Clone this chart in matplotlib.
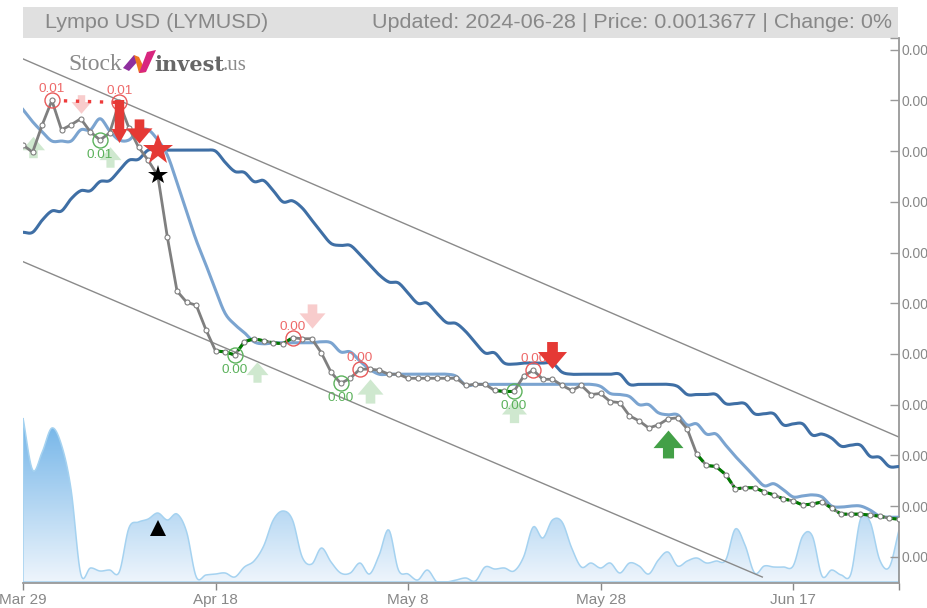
import numpy as np
import matplotlib
matplotlib.use('Agg')
import matplotlib.pyplot as plt
from matplotlib.patches import Polygon, Rectangle
from matplotlib.path import Path

plt.rcParams['font.family'] = ['Liberation Sans', 'DejaVu Sans']

# prices are in 1/1000 USD, one value per day from Mar 29 (day 0)
price = [5.06, 4.99, 5.26, 5.50, 5.21, 5.26, 5.32, 5.19, 5.11, 5.18, 5.48, 5.23, 5.04, 4.91, 4.76, 4.15,
         3.62, 3.51, 3.48, 3.24, 3.03, 3.02, 2.99, 3.12, 3.15, 3.13, 3.11, 3.10, 3.16, 3.15, 3.15, 3.01,
         2.82, 2.71, 2.76, 2.85, 2.85, 2.84, 2.80, 2.80, 2.76, 2.76, 2.76, 2.76, 2.76, 2.76, 2.69, 2.70,
         2.70, 2.64, 2.63, 2.63, 2.78, 2.84, 2.75, 2.75, 2.69, 2.64, 2.69, 2.60, 2.61, 2.53, 2.52, 2.39,
         2.34, 2.27, 2.30, 2.36, 2.37, 2.26, 2.01, 1.90, 1.89, 1.81, 1.67, 1.68, 1.68, 1.64, 1.61, 1.57,
         1.55, 1.51, 1.52, 1.54, 1.48, 1.42, 1.42, 1.42, 1.41, 1.40, 1.38, 1.37]
ma_long = [4.20, 4.20, 4.32, 4.41, 4.41, 4.53, 4.61, 4.61, 4.70, 4.71, 4.81, 4.91, 4.92, 5.01, 5.01, 5.01,
           5.01, 5.01, 5.01, 5.01, 5.00, 4.89, 4.80, 4.79, 4.70, 4.71, 4.61, 4.50, 4.51, 4.44, 4.32, 4.20,
           4.09, 4.07, 4.07, 3.98, 3.88, 3.78, 3.71, 3.70, 3.60, 3.50, 3.50, 3.40, 3.31, 3.30, 3.22, 3.11,
           3.01, 3.01, 2.91, 2.90, 2.91, 2.91, 2.91, 2.91, 2.82, 2.80, 2.80, 2.80, 2.80, 2.80, 2.80, 2.70,
           2.70, 2.70, 2.70, 2.70, 2.68, 2.60, 2.60, 2.60, 2.60, 2.51, 2.51, 2.51, 2.41, 2.41, 2.41, 2.30,
           2.31, 2.31, 2.20, 2.21, 2.17, 2.09, 2.10, 2.10, 1.99, 1.98, 1.89, 1.89]
ma_short = [5.41, 5.29, 5.19, 5.10, 5.10, 5.10, 5.21, 5.21, 5.32, 5.20, 5.11, 5.11, 5.20, 5.21, 5.11, 4.96,
            4.69, 4.40, 4.12, 3.88, 3.63, 3.40, 3.29, 3.21, 3.12, 3.10, 3.11, 3.11, 3.11, 3.11, 3.11, 3.12,
            3.11, 3.02, 3.02, 2.93, 2.85, 2.80, 2.80, 2.80, 2.80, 2.80, 2.80, 2.80, 2.80, 2.78, 2.69, 2.70,
            2.70, 2.70, 2.70, 2.70, 2.70, 2.70, 2.70, 2.70, 2.70, 2.70, 2.70, 2.70, 2.68, 2.61, 2.60, 2.58,
            2.50, 2.50, 2.42, 2.40, 2.40, 2.30, 2.31, 2.21, 2.21, 2.10, 1.99, 1.89, 1.79, 1.70, 1.72, 1.66,
            1.59, 1.60, 1.61, 1.59, 1.50, 1.49, 1.50, 1.50, 1.46, 1.40, 1.39, 1.39]
volume = [164, 112, 130, 154, 137, 92, 8, 14, 11, 12, 10, 54, 60, 63, 69, 62, 68, 50, 5, 7, 8, 9, 5, 15,
          21, 36, 62, 71, 62, 25, 18, 34, 20, 9, 9, 19, 8, 27, 52, 12, 8, 2, 12, 0, 0, 2, 4, 1, 15, 13,
          14, 11, 25, 55, 44, 62, 60, 34, 15, 19, 14, 19, 9, 19, 16, 8, 22, 30, 16, 21, 24, 19, 21, 22,
          53, 37, 9, 16, 15, 15, 16, 46, 46, 6, 12, 7, 8, 63, 60, 22, 15, 52]

channel_days = [0, 91]
channel_upper = [5.91, 2.18]
channel_lower_days = [0, 76.8]
channel_lower = [3.91, 0.80]

green_runs = [(20, 28), (49, 51), (70, 91)]
high_days = [3, 10, 28, 35, 53]
low_days = [8, 22, 33, 51]
high_labels = ['0.01', '0.01', '0.00', '0.00', '0.00']
low_labels = ['0.01', '0.00', '0.00', '0.00']

pale_sell = [(6, 5.47, 20), (30, 3.37, 26)]
sell = [(12, 5.20, 26), (55, 2.99, 29)]
pale_buy = [(1, 5.04, 23), (9, 4.94, 22), (24.3, 2.82, 22), (36, 2.63, 26), (51, 2.44, 25)]
buy = [(67, 2.11, 30)]

y_ticks = [1.0, 1.5, 2.0, 2.5, 3.0, 3.5, 4.0, 4.5, 5.0, 5.5, 6.0]
x_ticks = [0, 20, 40, 60, 80, 91]
x_labels = ['Mar 29', 'Apr 18', 'May 8', 'May 28', 'Jun 17', '']

W, H = 928, 608
GRAY = '#888888'


def fx(x):
    return x / W


def fy(y):
    return 1 - y / H


def smooth(x, y, n=10):
    # cubic through the daily values, only to round the drawn outline
    x = np.asarray(x, float)
    y = np.asarray(y, float)
    m = np.gradient(y, x)
    xs, ys = [], []
    for i in range(len(x) - 1):
        t = np.linspace(0, 1, n, endpoint=False)
        h = x[i + 1] - x[i]
        xs.extend(x[i] + t * h)
        ys.extend((2*t**3 - 3*t**2 + 1) * y[i] + (t**3 - 2*t**2 + t) * h * m[i]
                  + (-2*t**3 + 3*t**2) * y[i + 1] + (t**3 - t**2) * h * m[i + 1])
    xs.append(x[-1])
    ys.append(y[-1])
    return np.array(xs), np.array(ys)


def arrow_path(shaft=0.37, top=0.93, neck=0.24):
    return Path([(-shaft, top), (shaft, top), (shaft, neck), (1, neck), (0, -top), (-1, neck), (-shaft, neck),
                 (-shaft, top)], closed=True)


down_arrow = arrow_path()
up_arrow = down_arrow.transformed(matplotlib.transforms.Affine2D().scale(1, -1))
slim_arrow = Path([(-0.22, 1), (0.22, 1), (0.22, -0.35), (0.37, -0.35), (0, -1), (-0.37, -0.35), (-0.22, -0.35),
                   (-0.22, 1)], closed=True)

fig = plt.figure(figsize=(W / 100, H / 100), dpi=100)
rect = [fx(23), fy(583), 876 / W, 545 / H]

# volume sits in its own axes underneath
ax2 = fig.add_axes(rect, zorder=0)
ax2.axis('off')
days = np.arange(len(volume))
vx, vy = smooth(days, volume)
vy = np.clip(vy, 0, None)
grad = np.linspace(0, 1, 200)[:, None, None]
top_col = np.array(matplotlib.colors.to_rgb('#72b4e8'))
bot_col = np.array(matplotlib.colors.to_rgb('#eef5fc'))
img = ax2.imshow(top_col * (1 - grad) + bot_col * grad, extent=[0, 91, 0, 164], aspect='auto', zorder=1)
outline = Polygon(np.r_[np.c_[vx, vy], [[91, 0], [0, 0]]], closed=True, facecolor='none', edgecolor='#a5d2f0',
                  lw=1.1, zorder=2)
ax2.add_patch(outline)
img.set_clip_path(outline)
ax2.set_xlim(0, 91)
ax2.set_ylim(-1, 544)
ax2.plot([14], [54], marker='^', color='black', ms=11.5, mew=0, zorder=3)

ax = fig.add_axes(rect, zorder=1)
ax.patch.set_visible(False)
ax.set_xlim(0, 91)
ax.set_ylim(0.741, 6.116)

ax.plot(channel_days, channel_upper, color='#8a8a8a', lw=1.0, zorder=2)
ax.plot(channel_lower_days, channel_lower, color='#8a8a8a', lw=1.0, zorder=2)

ax.plot(*smooth(days, ma_long), color='#3f6fa5', lw=2.2, zorder=3)
ax.plot(*smooth(days, ma_short), color='#7ba4d0', lw=2.2, zorder=3)

ax.plot(days, price, color='#7f7f7f', lw=2.0, zorder=4)
for a, b in green_runs:
    ax.plot(days[a:b + 1], price[a:b + 1], color='#007a00', lw=2.2, ls=(0, (3.2, 0.9)), zorder=5)
ax.plot([3, 10], [price[3], price[10]], color='#ee3b3b', lw=2.4, ls=(0, (1.0, 2.6)), zorder=5)
ax.plot(days, price, ls='none', marker='o', ms=3.6, mfc='white', mec='#7f7f7f', mew=0.8, zorder=6)

# signal circles with their labels
for d, lab in zip(high_days, high_labels):
    ax.plot(d, price[d], marker='o', ms=10.8, mfc='none', mec='#e85a5a', mew=1.0, zorder=7)
    ax.annotate(lab, (d, price[d]), xytext=(0, 8), textcoords='offset points', ha='center', va='center',
                fontsize=9.7, color='#ee6a6a', zorder=7)
for d, lab in zip(low_days, low_labels):
    ax.plot(d, price[d], marker='o', ms=10.8, mfc='none', mec='#5cb25c', mew=1.0, zorder=7)
    ax.annotate(lab, (d, price[d]), xytext=(0, -10.5), textcoords='offset points', ha='center', va='center',
                fontsize=9.7, color='#5cb25c', zorder=7)

for d, v, w in pale_sell:
    ax.plot(d, v, marker=down_arrow, ms=w * 0.72, color='#f8cccc', mew=0, zorder=2.5)
for d, v, w in pale_buy:
    ax.plot(d, v, marker=up_arrow, ms=w * 0.72, color='#cfe8cf', mew=0, zorder=2.5)
ax.plot(10, 5.30, marker=slim_arrow, ms=31, color='#e53935', mew=0, zorder=8)
for d, v, w in sell:
    ax.plot(d, v, marker=down_arrow, ms=w * 0.72, color='#e53935', mew=0, zorder=8)
for d, v, w in buy:
    ax.plot(d, v, marker=up_arrow, ms=w * 0.72, color='#43a047', mew=0, zorder=8)
ax.plot(14, 5.01, marker='*', ms=23, color='#e53935', mew=0, zorder=9)
ax.plot(14, 4.76, marker='*', ms=14.5, color='black', mew=0, zorder=9)

for s in ['top', 'left']:
    ax.spines[s].set_visible(False)
ax.spines['right'].set_color('#999999')
ax.spines['bottom'].set_color('#999999')
ax.spines['right'].set_linewidth(1.3)
ax.spines['bottom'].set_linewidth(1.3)
ax.yaxis.tick_right()
ax.set_yticks(y_ticks + [6.116], ['0.00'] * len(y_ticks) + [''])
ax.set_xticks(x_ticks, x_labels)
ax.tick_params(axis='y', direction='in', length=6.5, width=1, color='#999999', labelcolor=GRAY, labelsize=10,
               pad=1.5)
ax.tick_params(axis='x', direction='out', length=5, width=1, color='#888888', labelcolor=GRAY, labelsize=11,
               pad=2)

# title band
fig.add_artist(Rectangle((fx(23), fy(37.5)), 875 / W, 30.5 / H, transform=fig.transFigure, color='#e0e0e0', lw=0,
                         zorder=-1))
fig.text(fx(45), fy(23), 'Lympo USD (LYMUSD)', fontsize=15.45, color=GRAY, va='center', ha='left')
fig.text(fx(892), fy(23), 'Updated: 2024-06-28 | Price: 0.0013677 | Change: 0%', fontsize=15.45, color=GRAY,
         va='center', ha='right')

# logo
fig.text(fx(68), fy(65), 'Stock', fontsize=17, color='#8a8a8a', family='Liberation Serif', va='center')
fig.text(fx(154), fy(65), 'invest', fontsize=15, color='#666666', family='DejaVu Serif', weight='bold', va='center')
fig.text(fx(223), fy(65), '.us', fontsize=15, color='#8a8a8a', family='Liberation Serif', va='center')
logo_parts = [('#8e2f9e', [(123, 68), (134, 55), (139, 60), (129, 71)]),
              ('#f0761e', [(134, 55), (139, 57), (146, 72), (139, 73)]),
              ('#d8267e', [(139, 73), (146, 72), (156, 50), (147, 52)])]
for col, pts in logo_parts:
    fig.add_artist(Polygon([(fx(x), fy(y)) for x, y in pts], closed=True, transform=fig.transFigure, color=col,
                           lw=0))

fig.savefig('out.png', dpi=100)
